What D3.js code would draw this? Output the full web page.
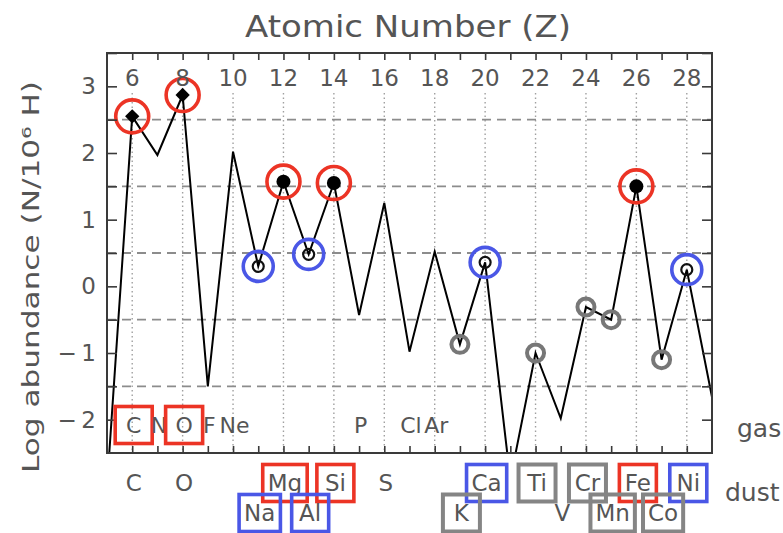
<!DOCTYPE html>
<html>
<head>
<meta charset="utf-8">
<script src="https://cdn.jsdelivr.net/npm/d3@7"></script>
<style>
  html, body { margin: 0; padding: 0; background: #fff; }
  svg { display: block; font-family: "DejaVu Sans", sans-serif; }
</style>
</head>
<body>
<svg id="chart" width="783" height="533"></svg>
<script>
// Atomic numbers and log abundances (N per 10^6 H), boron to copper
const atomicNumber = [5, 6, 7, 8, 9, 10, 11, 12, 13, 14, 15, 16, 17, 18, 19, 20, 21, 22, 23, 24, 25, 26, 27, 28, 29];
const logAbundance = [-3.0, 2.55, 1.97, 2.87, -1.5, 2.02, 0.3, 1.57, 0.48, 1.55, -0.43, 1.25, -0.98, 0.52, -0.87, 0.36, -2.9, -1.0, -1.98, -0.31, -0.5, 1.5, -1.1, 0.25, -1.66];

// Marker groups (by atomic number)
const diamondZ = [6, 8];
const filledZ = [12, 14, 26];
const openZ = [11, 13, 20, 28];
const grayZ = [19, 22, 24, 25, 27];
const redRingZ = [6, 8, 12, 14, 26];
const blueRingZ = [11, 13, 20, 28];

// Axis ticks
const topTickLabels = [6, 8, 10, 12, 14, 16, 18, 20, 22, 24, 26, 28];
const yTickLabels = [-2, -1, 0, 1, 2, 3];
const yGridLines = [-1.5, -0.5, 0.5, 1.5, 2.5];

// Element labels: gas phase row (inside the plot)
const gasZ = [6, 7, 8, 9, 10, 15, 17, 18];
const gasText = ["C", "N", "O", "F", "Ne", "P", "Cl", "Ar"];
const gasBox = ["red", "", "red", "", "", "", "", ""];

// Element labels: dust rows (below the plot)
const dustZ1 = [6, 8, 12, 14, 16, 20, 22, 24, 26, 28];
const dustText1 = ["C", "O", "Mg", "Si", "S", "Ca", "Ti", "Cr", "Fe", "Ni"];
const dustBox1 = ["", "", "red", "red", "", "blue", "gray", "gray", "red", "blue"];
const dustZ2 = [11, 13, 19, 23, 25, 27];
const dustText2 = ["Na", "Al", "K", "V", "Mn", "Co"];
const dustBox2 = ["blue", "blue", "gray", "", "gray", "gray"];

const colors = { red: "#ec3425", blue: "#4a57e6", gray: "#858585" };
const textColor = "#555";

const svg = d3.select("#chart");
const plotL = 107, plotR = 712, plotT = 53, plotB = 453;

const x = d3.scaleLinear().domain([5, 29]).range([plotL, plotR]);
const y = d3.scaleLinear().domain([-2.5, 3.5]).range([plotB, plotT]);

const points = atomicNumber.map((z, i) => ({ z, v: logAbundance[i] }));
const valueOf = z => logAbundance[atomicNumber.indexOf(z)];

svg.append("defs").append("clipPath").attr("id", "plotClip")
  .append("rect").attr("x", plotL).attr("y", plotT)
  .attr("width", plotR - plotL).attr("height", plotB - plotT);

// Grid: dotted verticals at even Z, dashed horizontals at half values
const grid = svg.append("g");
grid.selectAll("line.v").data(topTickLabels).join("line")
  .attr("x1", d => x(d)).attr("x2", d => x(d))
  .attr("y1", 93).attr("y2", plotB)
  .attr("stroke", "#a0a0a0").attr("stroke-width", 1.4)
  .attr("stroke-dasharray", "1.5,3");
grid.selectAll("line.h").data(yGridLines).join("line")
  .attr("x1", plotL).attr("x2", plotR)
  .attr("y1", d => y(d)).attr("y2", d => y(d))
  .attr("stroke", "#8c8c8c").attr("stroke-width", 1.8)
  .attr("stroke-dasharray", "9,6");

// Abundance line
svg.append("path").datum(points)
  .attr("clip-path", "url(#plotClip)")
  .attr("fill", "none").attr("stroke", "#000").attr("stroke-width", 2)
  .attr("stroke-linejoin", "miter")
  .attr("d", d3.line().x(d => x(d.z)).y(d => y(d.v)));

// Markers
const marks = svg.append("g");
marks.selectAll("path.diamond").data(diamondZ).join("path")
  .attr("d", d3.symbol(d3.symbolDiamond2, 130)())
  .attr("transform", d => `translate(${x(d)},${y(valueOf(d))})`)
  .attr("fill", "#000");
marks.selectAll("circle.filled").data(filledZ).join("circle")
  .attr("cx", d => x(d)).attr("cy", d => y(valueOf(d))).attr("r", 7)
  .attr("fill", "#000");
marks.selectAll("circle.open").data(openZ).join("circle")
  .attr("cx", d => x(d)).attr("cy", d => y(valueOf(d))).attr("r", 5.5)
  .attr("fill", "none").attr("stroke", "#111").attr("stroke-width", 2.2);
marks.selectAll("circle.gray").data(grayZ).join("circle")
  .attr("cx", d => x(d)).attr("cy", d => y(valueOf(d))).attr("r", 8.5)
  .attr("fill", "none").attr("stroke", "#777").attr("stroke-width", 4);
marks.selectAll("circle.redring").data(redRingZ).join("circle")
  .attr("cx", d => x(d)).attr("cy", d => y(valueOf(d))).attr("r", 16.5)
  .attr("fill", "none").attr("stroke", colors.red).attr("stroke-width", 3.6);
marks.selectAll("circle.bluering").data(blueRingZ).join("circle")
  .attr("cx", d => x(d)).attr("cy", d => y(valueOf(d))).attr("r", 15)
  .attr("fill", "none").attr("stroke", colors.blue).attr("stroke-width", 3.6);

// Axes: ticks point inward on all four sides
const tickStyle = g => {
  g.select(".domain").remove();
  g.selectAll(".tick line").attr("stroke", "#3a3a3a").attr("stroke-width", 1.6);
};
svg.append("g").attr("transform", `translate(0,${plotT})`)
  .call(d3.axisBottom(x).tickValues(d3.range(6, 29)).tickSize(7).tickFormat(""))
  .call(tickStyle);
svg.append("g").attr("transform", `translate(0,${plotB})`)
  .call(d3.axisTop(x).tickValues(d3.range(6, 29)).tickSize(7).tickFormat(""))
  .call(tickStyle);
svg.append("g").attr("transform", `translate(${plotL},0)`)
  .call(d3.axisRight(y).tickValues(d3.range(-2, 3.51, 0.5)).tickSize(10).tickFormat(""))
  .call(tickStyle);
svg.append("g").attr("transform", `translate(${plotR},0)`)
  .call(d3.axisLeft(y).tickValues(d3.range(-2, 3.51, 0.5)).tickSize(10).tickFormat(""))
  .call(tickStyle);

// Tick labels
const yLab = svg.append("g").attr("transform", `translate(${plotL},0)`)
  .call(d3.axisLeft(y).tickValues(yTickLabels).tickSize(0).tickPadding(11)
    .tickFormat(d => d < 0 ? "\u2212\u2009" + Math.abs(d) : d));
yLab.select(".domain").remove();
yLab.selectAll("text").attr("font-family", "DejaVu Sans").attr("font-size", 23)
  .attr("fill", textColor);

svg.append("g").selectAll("text").data(topTickLabels).join("text")
  .attr("x", d => x(d)).attr("y", 78)
  .attr("text-anchor", "middle").attr("dominant-baseline", "central")
  .attr("font-size", 23).attr("fill", textColor)
  .text(d => d);

// Frame
svg.append("rect").attr("x", plotL).attr("y", plotT)
  .attr("width", plotR - plotL).attr("height", plotB - plotT)
  .attr("fill", "none").attr("stroke", "#3a3a3a").attr("stroke-width", 2);

// Titles
svg.append("text").attr("x", 408).attr("y", 26)
  .attr("text-anchor", "middle").attr("dominant-baseline", "central")
  .attr("font-size", 30).attr("fill", textColor)
  .attr("textLength", 326).attr("lengthAdjust", "spacingAndGlyphs")
  .text("Atomic Number (Z)");
svg.append("text")
  .attr("transform", "translate(31,277) rotate(-90)")
  .attr("text-anchor", "middle").attr("dominant-baseline", "central")
  .attr("font-size", 23).attr("fill", textColor)
  .attr("textLength", 392).attr("lengthAdjust", "spacingAndGlyphs")
  .text("Log abundance (N/10\u2076 H)");

// Element label rows with optional boxes
function labelRow(zs, texts, boxes, cy, size) {
  const g = svg.append("g");
  zs.forEach((z, i) => {
    const cx = x(z) + 1.5;
    const t = g.append("text").attr("x", cx).attr("y", cy)
      .attr("text-anchor", "middle").attr("dominant-baseline", "central")
      .attr("font-size", size).attr("fill", textColor).text(texts[i]);
    if (boxes[i]) {
      const w = Math.max(t.node().getComputedTextLength() + 10, 37);
      g.append("rect").attr("x", cx - w / 2).attr("y", cy - 18.5)
        .attr("width", w).attr("height", 37)
        .attr("fill", "none").attr("stroke", colors[boxes[i]])
        .attr("stroke-width", boxes[i] === "gray" ? 4 : 3.6);
    }
  });
}
labelRow(gasZ, gasText, gasBox, 425, 22);
labelRow(dustZ1, dustText1, dustBox1, 483, 23);
labelRow(dustZ2, dustText2, dustBox2, 513, 23);

svg.append("text").attr("x", 737).attr("y", 428)
  .attr("dominant-baseline", "central").attr("font-size", 25)
  .attr("fill", textColor).text("gas");
svg.append("text").attr("x", 725).attr("y", 492)
  .attr("dominant-baseline", "central").attr("font-size", 25)
  .attr("fill", textColor).text("dust");
</script>
</body>
</html>
